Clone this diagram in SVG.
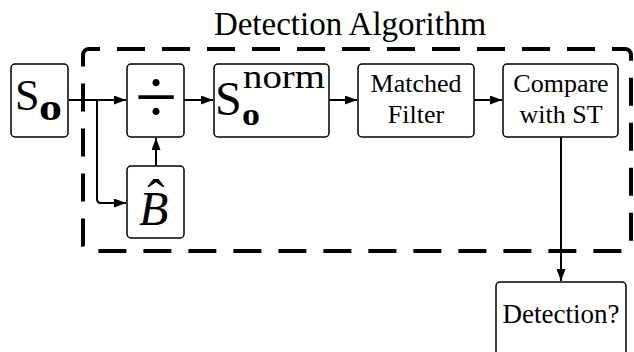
<svg xmlns="http://www.w3.org/2000/svg" width="634" height="352" viewBox="0 0 634 352">
<defs>
<marker id="ah" viewBox="0 0 12 9" refX="12" refY="4.5" markerWidth="12" markerHeight="9" markerUnits="userSpaceOnUse" orient="auto">
<path d="M0,0 L12,4.5 L0,9 Z" fill="#000"/>
</marker>
<style>
.box{fill:#fff;stroke:#000;stroke-width:1.5}
.t{font-family:"Liberation Serif","Times New Roman",serif;fill:#000}
.c{stroke:#000;stroke-width:2;fill:none}
</style>
</defs>
<rect width="634" height="352" fill="#fff"/>
<g id="algorithm">
<rect x="83" y="49" width="548" height="202" rx="6" fill="none" stroke="#000" stroke-width="4" stroke-dasharray="28 17" stroke-dashoffset="17"/>
<text class="t" x="350" y="35" font-size="33" text-anchor="middle">Detection Algorithm</text>
</g>
<g id="connectors">
<path class="c" d="M69,100 H126" marker-end="url(#ah)"/>
<path class="c" d="M97,100 V199 Q97,203 101,203 H126" marker-end="url(#ah)"/>
<path class="c" d="M156,166 V138" marker-end="url(#ah)"/>
<path class="c" d="M184,100 H213" marker-end="url(#ah)"/>
<path class="c" d="M329,100 H357" marker-end="url(#ah)"/>
<path class="c" d="M474,100 H502" marker-end="url(#ah)"/>
<path class="c" d="M561,137 V281" marker-end="url(#ah)"/>
</g>
<g id="so">
<rect class="box" x="11" y="64" width="57" height="73" rx="4"/>
<text class="t" x="15" y="110" font-size="44">S</text>
<text class="t" x="39" y="120" font-size="38" font-weight="bold" textLength="23" lengthAdjust="spacingAndGlyphs">o</text>
</g>
<g id="divide">
<rect class="box" x="127" y="64" width="57" height="73" rx="4"/>
<text class="t" x="156" y="123" font-size="76" text-anchor="middle">÷</text>
</g>
<g id="bhat">
<rect class="box" x="127" y="166" width="57" height="72" rx="4"/>
<text class="t" x="139" y="225" font-size="48" font-style="italic">B<tspan font-style="normal" font-size="52" dx="-21" dy="-9">ˆ</tspan></text>
</g>
<g id="snorm">
<rect class="box" x="214" y="64" width="115" height="73" rx="4"/>
<text class="t" x="215" y="115" font-size="48">S</text>
<text class="t" x="243" y="88" font-size="33" textLength="82" lengthAdjust="spacingAndGlyphs">norm</text>
<text class="t" x="242" y="125" font-size="32" font-weight="bold" textLength="18" lengthAdjust="spacingAndGlyphs">o</text>
</g>
<g id="matched">
<rect class="box" x="358" y="64" width="116" height="73" rx="4"/>
<text class="t" x="416" y="92" font-size="26" text-anchor="middle">Matched</text>
<text class="t" x="416" y="123" font-size="26" text-anchor="middle">Filter</text>
</g>
<g id="compare">
<rect class="box" x="503" y="64" width="115" height="73" rx="4"/>
<text class="t" x="561" y="92" font-size="26" text-anchor="middle">Compare</text>
<text class="t" x="561" y="123" font-size="26" text-anchor="middle">with ST</text>
</g>
<g id="detection">
<rect class="box" x="496" y="282" width="130" height="74" rx="4"/>
<text class="t" x="561" y="323" font-size="27" text-anchor="middle">Detection?</text>
</g>
</svg>
